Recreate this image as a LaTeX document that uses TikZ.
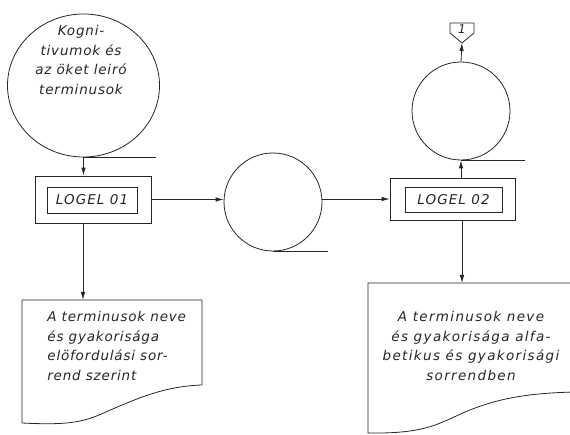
\documentclass[tikz,border=0pt]{standalone}
\usepackage{fontspec}
\setmainfont{DejaVu Sans}
\usetikzlibrary{arrows.meta,shapes.geometric}
\begin{document}
\begin{tikzpicture}[x=1pt,y=-1pt,line width=0.8pt,color=black!85,
  hand/.style={font=\fontsize{13.5}{19.5}\selectfont\itshape\addfontfeature{LetterSpace=6},inner sep=0pt},
  handwide/.style={font=\fontsize{13.5}{19.5}\selectfont\itshape\addfontfeature{LetterSpace=10},inner sep=0pt},
  arr/.style={-{Latex[length=8pt,width=4.5pt]}},
  store/.style={draw,circle,minimum size=98,inner sep=0pt},
  outerbox/.style={draw,rectangle,inner sep=0pt},
  innerbox/.style={draw,rectangle,inner sep=0pt,font=\fontsize{13.5}{19.5}\selectfont\itshape\addfontfeature{LetterSpace=8}}]
\useasboundingbox (0,0) rectangle (570,435);

% storage 1
\node[draw,ellipse,minimum width=152,minimum height=143,inner sep=0pt] (c1) at (83.5,85.5) {};
\node[hand,align=center] (t1) at (81,60) {Kogni-\\tivumok és\\az öket leiró\\terminusok};
\draw (c1.south) -- ++(72,0);

% LOGEL 01
\node[outerbox,minimum width=116,minimum height=47] (b1) at (93,199.5) {};
\node[innerbox,minimum width=90,minimum height=26] (b1i) at (92,200) {LOGEL 01};

% storage 2
\node[store] (c2) at (273,202) {};
\draw (c2.south) -- ++(55,0);

% LOGEL 02
\node[outerbox,minimum width=125,minimum height=42] (b2) at (452.5,199) {};
\node[innerbox,minimum width=97,minimum height=25] (b2i) at (453.5,199.5) {LOGEL 02};

% storage 3
\node[store] (c3) at (461,111) {};
\draw (c3.south) -- ++(64,0);

% connector
\draw (450,23) -- (474,23) -- (474,33) -- (462,43) -- (450,33) -- cycle;
\coordinate (contip) at (462,43);
\node[hand,font=\fontsize{12}{14}\selectfont\itshape] (one) at (462,29) {1};

% document 1
\draw (22,300) -- (202,300) -- (202,385) .. controls (170,386) and (145,395) .. (115,408)
  .. controls (88,419.7) and (80,426) .. (22,423) -- cycle;
\coordinate (d1) at (83,300);
\node[hand,align=left,anchor=north west] (t2) at (47,311) {A terminusok neve\\és gyakorisága\\elöfordulási sor-\\rend szerint};

% document 2
\draw (368,283) -- (580,283) -- (580,392) -- (575,392) .. controls (530,393) and (500,398) .. (470,410)
  .. controls (440,422) and (430,434) .. (368,433) -- cycle;
\coordinate (d2) at (462,283);
\node[handwide,align=center,anchor=north] (t3) at (471,311) {A terminusok neve\\és gyakorisága alfa-\\betikus és gyakorisági\\sorrendben};

% connectors
\draw[arr] (c1.south) -- (c1.south |- b1.north);
\draw[arr] (b1.east) -- (b1.east -| c2.west);
\draw[arr] (b2.west -| c2.east) -- (b2.west);
\draw[arr] (c3.south |- b2.north) -- (c3.south);
\draw[arr] (c3.north) -- (contip);
\draw[arr] (b1.south -| d1) -- (d1);
\draw[arr] (b2.south -| d2) -- (d2);
\end{tikzpicture}
\end{document}
